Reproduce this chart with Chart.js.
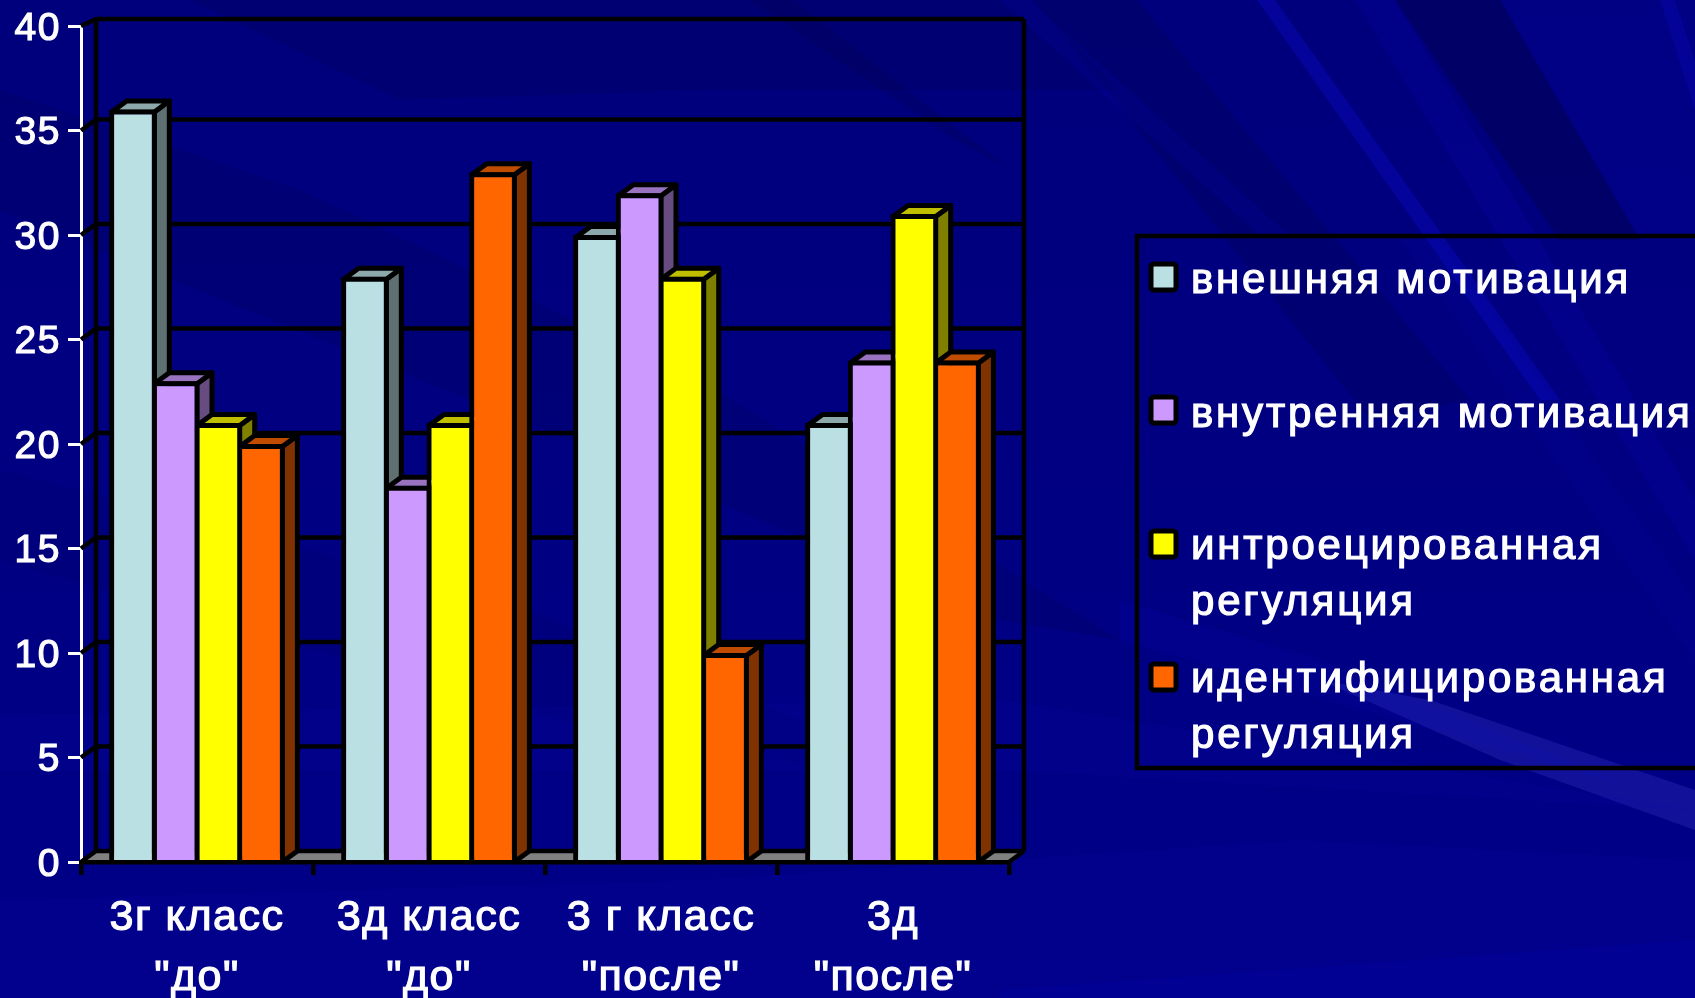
<!DOCTYPE html>
<html>
<head>
<meta charset="utf-8">
<style>
  html, body { margin: 0; padding: 0; background: #00007e; overflow: hidden; }
  #chart-box { width: 1695px; height: 998px; }
</style>
<script src="https://cdn.jsdelivr.net/npm/chart.js@4"></script>
</head>
<body>
<div id="chart-box"><canvas id="motivation-canvas"></canvas></div>
<script>
const categories = [['3г класс', '"до"'], ['3д класс', '"до"'], ['3 г класс', '"после"'], ['3д', '"после"']];
const external_values = [36, 28, 30, 21];
const internal_values = [23, 18, 32, 24];
const introjected_values = [21, 21, 28, 31];
const identified_values = [20, 33, 10, 24];

const series_names = [
    ['внешняя мотивация'],
    ['внутренняя мотивация'],
    ['интроецированная', 'регуляция'],
    ['идентифицированная', 'регуляция']
];
const front_colors = ['#BBE0E3', '#CC99FF', '#FFFF00', '#FF6600'];
const side_colors = ['#5E7072', '#664C80', '#808000', '#803300'];
const top_colors = ['#8CA8AA', '#9973BF', '#BFBF00', '#BF4C00'];

const font_family = '"Liberation Sans", Arial, sans-serif';

// faint streaks of the slide background: polygon + colour
const DARK = a => 'rgba(0,0,70,' + a + ')';
const LIGHT = a => 'rgba(10,10,200,' + a + ')';
const streaks = [
    // left part
    [[[190, 0], [1035, 0], [1120, 90], [700, 90], [400, 100]], DARK(0.16)],
    [[[0, 90], [0, 210], [520, 420], [1000, 620], [1120, 640], [700, 380], [300, 190]], DARK(0.16)],
    [[[0, 470], [0, 560], [560, 720], [1000, 800], [500, 600]], DARK(0.08)],
    [[[750, 0], [793, 0], [1010, 170], [940, 130]], DARK(0.22)],
    // right part, falling to the lower right
    [[[1035, 0], [1137, 0], [1470, 400], [1370, 420]], DARK(0.24)],
    [[[1395, 0], [1500, 0], [1640, 240], [1560, 240]], DARK(0.40)],
    [[[1000, 0], [1030, 0], [1290, 236], [1260, 236]], LIGHT(0.14)],
    [[[1257, 0], [1275, 0], [1560, 400], [1540, 400]], LIGHT(0.40)],
    [[[1355, 0], [1395, 0], [1695, 500], [1695, 560]], LIGHT(0.15)],
    [[[1500, 0], [1695, 0], [1695, 240], [1640, 240]], LIGHT(0.12)],
    [[[1660, 0], [1675, 0], [1695, 60], [1695, 110]], LIGHT(0.30)],
    [[[1400, 240], [1440, 240], [1695, 600], [1695, 660]], LIGHT(0.08)],
    // lower bands
    [[[1120, 600], [1320, 660], [1640, 790], [1120, 640]], LIGHT(0.12)],
    [[[1320, 680], [1430, 700], [1695, 790], [1695, 830], [1500, 760]], 'rgba(60,60,210,0.28)'],
    [[[0, 715], [1000, 700], [1695, 810], [1000, 770], [0, 770]], LIGHT(0.08)],
    [[[0, 900], [700, 880], [1300, 840], [1695, 860], [1695, 998], [0, 998]], LIGHT(0.08)],
    [[[1000, 990], [1695, 940], [1695, 998], [1000, 998]], LIGHT(0.12)]
];

const DEPTH_X = 15;
const DEPTH_Y = 11;
const WALL_TOP = 19;

const scene_plugin = {
    id: 'scene',
    beforeDraw(chart) {
        const ctx = chart.ctx;
        ctx.save();
        const g = ctx.createLinearGradient(0, 0, 0, chart.height);
        g.addColorStop(0, '#00007c');
        g.addColorStop(1, '#000088');
        ctx.fillStyle = g;
        ctx.fillRect(0, 0, chart.width, chart.height);
        streaks.forEach(([pts, color]) => {
            ctx.fillStyle = color;
            ctx.beginPath();
            pts.forEach(([x, y], i) => i ? ctx.lineTo(x, y) : ctx.moveTo(x, y));
            ctx.closePath();
            ctx.fill();
        });
        ctx.restore();
        ctx.letterSpacing = '1.5px'; // axis labels are spaced out in the original
    },
    beforeDatasetsDraw(chart) {
        const ctx = chart.ctx;
        const y = chart.scales.y;
        const x = chart.scales.x;
        const left = x.left;
        const right = x.right;
        const base = y.getPixelForValue(0);

        ctx.save();
        ctx.strokeStyle = '#000';
        ctx.lineWidth = 4.5;

        // floor
        ctx.fillStyle = '#808080';
        ctx.beginPath();
        ctx.moveTo(left, base);
        ctx.lineTo(left + DEPTH_X, base - DEPTH_Y);
        ctx.lineTo(right + DEPTH_X, base - DEPTH_Y);
        ctx.lineTo(right, base);
        ctx.closePath();
        ctx.fill();

        // wall lines
        y.ticks.forEach(t => {
            const py = y.getPixelForValue(t.value);
            const wy = Math.max(py - DEPTH_Y, WALL_TOP);
            ctx.beginPath();
            ctx.moveTo(left, py);
            ctx.lineTo(left + DEPTH_X, wy);
            ctx.lineTo(right + DEPTH_X, wy);
            ctx.stroke();
        });
        ctx.beginPath();
        ctx.moveTo(left + DEPTH_X, WALL_TOP);
        ctx.lineTo(left + DEPTH_X, base - DEPTH_Y);
        ctx.moveTo(right + DEPTH_X, WALL_TOP);
        ctx.lineTo(right + DEPTH_X, base - DEPTH_Y);
        ctx.moveTo(right, base);
        ctx.lineTo(right + DEPTH_X, base - DEPTH_Y);
        ctx.stroke();

        // bar sides and tops, left to right
        ctx.lineWidth = 5;
        ctx.lineJoin = 'round';
        categories.forEach((c, ci) => {
            chart.data.datasets.forEach((d, di) => {
                const bar = chart.getDatasetMeta(di).data[ci];
                const r = bar.x + bar.width / 2 - 2.5;
                const l = bar.x - bar.width / 2 + 2.5;
                const t = bar.y + 2.5;
                ctx.fillStyle = side_colors[di];
                ctx.beginPath();
                ctx.moveTo(r, t);
                ctx.lineTo(r + DEPTH_X, t - DEPTH_Y);
                ctx.lineTo(r + DEPTH_X, base - DEPTH_Y);
                ctx.lineTo(r, base);
                ctx.closePath();
                ctx.fill();
                ctx.stroke();
                ctx.fillStyle = top_colors[di];
                ctx.beginPath();
                ctx.moveTo(l, t);
                ctx.lineTo(l + DEPTH_X, t - DEPTH_Y);
                ctx.lineTo(r + DEPTH_X, t - DEPTH_Y);
                ctx.lineTo(r, t);
                ctx.closePath();
                ctx.fill();
                ctx.stroke();
            });
        });
        ctx.restore();
    },
    afterDraw(chart) {
        // legend panel
        const ctx = chart.ctx;
        const swatch_y = [264, 397, 531, 664];
        const text_y = [[293], [427], [559, 615], [692, 748]];
        ctx.save();
        ctx.strokeStyle = '#000';
        ctx.lineWidth = 4.5;
        ctx.strokeRect(1137, 236, 600, 532);
        ctx.font = '42px ' + font_family;
        ctx.letterSpacing = '2.8px';
        ctx.textBaseline = 'alphabetic';
        series_names.forEach((lines, i) => {
            ctx.fillStyle = front_colors[i];
            ctx.strokeStyle = '#000';
            ctx.lineWidth = 5;
            ctx.beginPath();
            ctx.roundRect(1151, swatch_y[i], 25, 26, 3);
            ctx.fill();
            ctx.stroke();
            ctx.fillStyle = '#fff';
            ctx.strokeStyle = '#fff';
            ctx.lineWidth = 1.2;
            lines.forEach((line, j) => {
                ctx.strokeText(line, 1191, text_y[i][j]);
                ctx.fillText(line, 1191, text_y[i][j]);
            });
        });
        ctx.restore();
    }
};

const config = {
    type: 'bar',
    data: {
        labels: categories,
        datasets: [external_values, internal_values, introjected_values, identified_values].map((vals, i) => ({
            label: series_names[i].join(' '),
            data: vals,
            backgroundColor: front_colors[i],
            borderColor: '#000',
            borderWidth: 5,
            barPercentage: 1.117,
            categoryPercentage: 0.736
        }))
    },
    options: {
        responsive: true,
        maintainAspectRatio: false,
        animation: false,
        layout: { padding: { top: 26, right: 686, left: 0, bottom: 0 } },
        plugins: {
            legend: { display: false },
            title: { display: false },
            tooltip: { enabled: false }
        },
        scales: {
            y: {
                min: 0,
                max: 40,
                ticks: {
                    stepSize: 5,
                    color: '#fff',
                    padding: 7,
                    labelOffset: 3,
                    textStrokeColor: '#fff',
                    textStrokeWidth: 1.2,
                    font: { family: font_family, size: 39 }
                },
                grid: { drawOnChartArea: false, color: '#fff', lineWidth: 3, tickLength: 13 },
                border: { color: '#fff', width: 3 },
                afterFit(scale) {
                    scale.width = 81;
                    scale.paddingTop = 0;
                    scale.paddingBottom = 0;
                }
            },
            x: {
                ticks: {
                    color: '#fff',
                    padding: 13,
                    maxRotation: 0,
                    autoSkip: false,
                    textStrokeColor: '#fff',
                    textStrokeWidth: 1.2,
                    font: { family: font_family, size: 43, lineHeight: 1.395 }
                },
                grid: { drawOnChartArea: false, color: '#000', lineWidth: 4.5, tickLength: 13 },
                border: { color: '#000', width: 4.5, z: 1 },
                afterFit(scale) {
                    scale.height = 136;
                    scale.paddingLeft = 0;
                    scale.paddingRight = 0;
                }
            }
        }
    },
    plugins: [scene_plugin]
};

new Chart(document.getElementById('motivation-canvas'), config);
</script>
</body>
</html>
